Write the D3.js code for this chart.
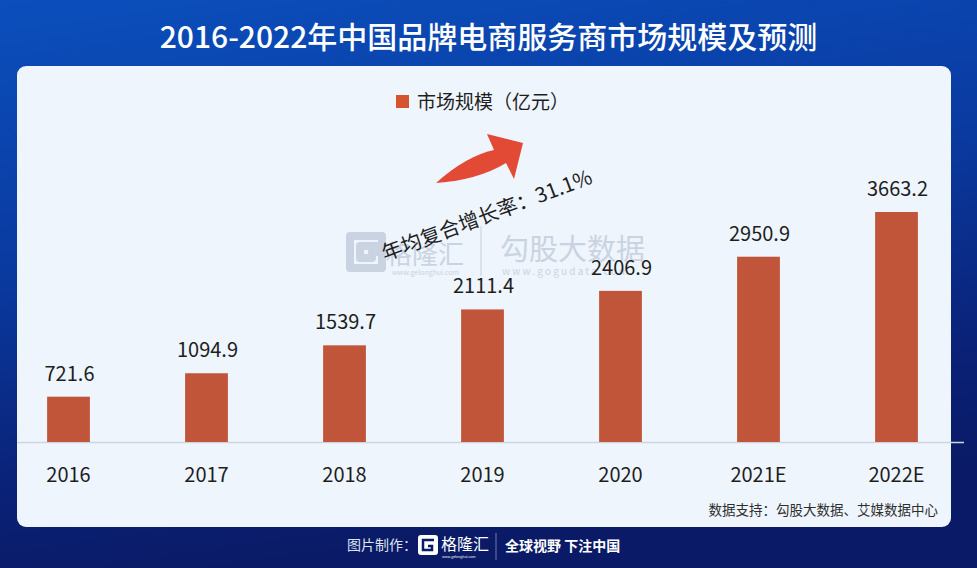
<!DOCTYPE html>
<html>
<head>
<meta charset="utf-8">
<script src="https://cdn.jsdelivr.net/npm/d3@7"></script>
<style>
  body { margin: 0; background: #0a2a8a; }
  svg { display: block; font-family: "Noto Sans CJK SC", "Noto Sans", sans-serif; }
</style>
</head>
<body>
<div class="chart"></div>
<script>
// data
var years = ["2016", "2017", "2018", "2019", "2020", "2021E", "2022E"];
var marketSize = [721.6, 1094.9, 1539.7, 2111.4, 2406.9, 2950.9, 3663.2];
var seriesName = "市场规模（亿元）";
var titleText = "2016-2022年中国品牌电商服务商市场规模及预测";
var cagrText = "年均复合增长率：31.1%";
var sourceText = "数据支持：勾股大数据、艾媒数据中心";

var svgWidth = 977, svgHeight = 568;

var svg = d3.select(".chart")
  .append("svg")
  .attr("width", svgWidth)
  .attr("height", svgHeight);

var defs = svg.append("defs");
var bg = defs.append("linearGradient")
  .attr("id", "bg")
  .attr("x1", "0").attr("y1", "0")
  .attr("x2", "0.25").attr("y2", "1");
bg.append("stop").attr("offset", "0").attr("stop-color", "#0b4fbc");
bg.append("stop").attr("offset", "0.45").attr("stop-color", "#0a3aa0");
bg.append("stop").attr("offset", "0.8").attr("stop-color", "#0a2278");
bg.append("stop").attr("offset", "1").attr("stop-color", "#0a1a66");

svg.append("rect")
  .attr("width", svgWidth)
  .attr("height", svgHeight)
  .attr("fill", "url(#bg)");

// title
svg.append("text")
  .attr("x", svgWidth / 2)
  .attr("y", 48)
  .attr("text-anchor", "middle")
  .attr("fill", "#ffffff")
  .attr("font-size", 30)
  .attr("font-weight", 500)
  .text(titleText);

// light panel
svg.append("rect")
  .attr("x", 17).attr("y", 66)
  .attr("width", 934).attr("height", 461)
  .attr("rx", 9)
  .attr("fill", "#eef5fc");

// scales
var x = d3.scaleBand()
  .domain(years)
  .range([-0.5, 965.5])
  .paddingInner(0.69)
  .paddingOuter(0.345);

var y = d3.scaleLinear()
  .domain([0, 3663.2])
  .range([442, 212]);

// watermarks
var wm = svg.append("g").attr("opacity", 0.7);
wm.append("path")
  .attr("d", "M350,236 H382 V246 H360 V258 H372 V252 H382 V268 H350 Z")
  .attr("fill", "none")
  .attr("stroke", "#bcc6d6")
  .attr("stroke-width", 8)
  .attr("stroke-linejoin", "round");
wm.append("text")
  .attr("x", 386).attr("y", 264)
  .attr("font-size", 26)
  .attr("fill", "#bcc6d6")
  .text("格隆汇");
wm.append("text")
  .attr("x", 392).attr("y", 275)
  .attr("font-size", 7)
  .attr("fill", "#bcc6d6")
  .text("www.gelonghui.com");
wm.append("line")
  .attr("x1", 481).attr("x2", 481)
  .attr("y1", 226).attr("y2", 276)
  .attr("stroke", "#c8d0dc")
  .attr("stroke-width", 1.5);
wm.append("text")
  .attr("x", 500).attr("y", 260)
  .attr("font-size", 29)
  .attr("fill", "#bcc6d6")
  .text("勾股大数据");
wm.append("text")
  .attr("x", 502).attr("y", 275)
  .attr("font-size", 10)
  .attr("letter-spacing", 2.2)
  .attr("fill", "#bcc6d6")
  .text("www.gogudata.com");

// axis baseline
svg.append("line")
  .attr("x1", 17).attr("x2", 964)
  .attr("y1", y(0) + 0.5).attr("y2", y(0) + 0.5)
  .attr("stroke", "#cfd5dc")
  .attr("stroke-width", 1.5);

// bars
svg.selectAll(".bar")
  .data(marketSize)
  .enter()
  .append("rect")
  .attr("class", "bar")
  .attr("x", (d, i) => x(years[i]))
  .attr("y", d => y(d))
  .attr("width", x.bandwidth())
  .attr("height", d => y(0) - y(d))
  .attr("fill", "#c0553a");

// value labels
svg.selectAll(".label")
  .data(marketSize)
  .enter()
  .append("text")
  .attr("class", "label")
  .attr("x", (d, i) => x(years[i]) + x.bandwidth() / 2 + 1)
  .attr("y", d => y(d) - 16)
  .attr("text-anchor", "middle")
  .attr("font-size", 20)
  .attr("fill", "#1e1e1e")
  .text(d => d.toFixed(1));

// x axis labels
var bottomAxis = d3.axisBottom(x).tickSize(0).tickPadding(0);
var xAxis = svg.append("g")
  .attr("transform", `translate(0, ${y(0)})`)
  .call(bottomAxis);
xAxis.select(".domain").remove();
xAxis.selectAll("text")
  .attr("dy", null)
  .attr("y", 40)
  .attr("font-size", 20)
  .attr("font-family", "\"Noto Sans CJK SC\", sans-serif")
  .attr("fill", "#1e1e1e");

// legend
svg.append("rect")
  .attr("x", 396).attr("y", 95)
  .attr("width", 13).attr("height", 13)
  .attr("fill", "#d6532f");
svg.append("text")
  .attr("x", 417).attr("y", 109)
  .attr("font-size", 19)
  .attr("fill", "#1e1e1e")
  .text(seriesName);

// growth arrow
svg.append("path")
  .attr("d", "M436,183 Q466,156 494,150 L487,134 L523,143 L514,179 L506,163 Q478,180 436,183 Z")
  .attr("fill", "#e24a35");

svg.append("text")
  .attr("transform", "translate(385,261) rotate(-20.5)")
  .attr("font-size", 20.5)
  .attr("fill", "#1e1e1e")
  .text(cagrText);

// source
svg.append("text")
  .attr("x", 938).attr("y", 515)
  .attr("text-anchor", "end")
  .attr("font-size", 13.5)
  .attr("fill", "#2e2e2e")
  .text(sourceText);

// footer
var foot = svg.append("g");
foot.append("text")
  .attr("x", 347).attr("y", 550)
  .attr("font-size", 14)
  .attr("fill", "#dfe4f2")
  .text("图片制作：");
foot.append("rect")
  .attr("x", 418).attr("y", 535)
  .attr("width", 20).attr("height", 20)
  .attr("rx", 3)
  .attr("fill", "#ffffff");
foot.append("path")
  .attr("d", "M434,540 H423 V550 H432 V546 H428")
  .attr("fill", "none")
  .attr("stroke", "#0a1a66")
  .attr("stroke-width", 2.5);
foot.append("text")
  .attr("x", 441).attr("y", 550)
  .attr("font-size", 16)
  .attr("fill", "#ffffff")
  .text("格隆汇");
foot.append("text")
  .attr("x", 442).attr("y", 558)
  .attr("font-size", 3.5)
  .attr("fill", "#ffffff")
  .text("www.gelonghui.com");
foot.append("line")
  .attr("x1", 496).attr("x2", 496)
  .attr("y1", 533).attr("y2", 560)
  .attr("stroke", "#6f7aa8")
  .attr("stroke-width", 1);
foot.append("text")
  .attr("x", 505).attr("y", 551)
  .attr("font-size", 14)
  .attr("font-weight", "bold")
  .attr("fill", "#ffffff")
  .text("全球视野 下注中国");
</script>
</body>
</html>
